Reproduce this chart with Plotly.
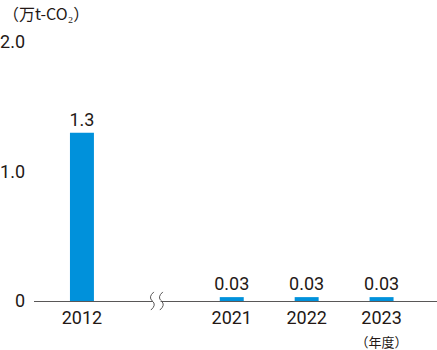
import plotly.graph_objects as go

categories = ["2012", " ", "2021", "2022", "2023"]
tick_labels = ["2012", "", "2021", "2022", "2023<br><span style='font-size:13px'>（年度）</span>"]
values = [1.3, None, 0.03, 0.03, 0.03]
value_labels = ["1.3", "", "0.03", "0.03", "0.03"]
y_ticks = [0, 1.0, 2.0]
y_tick_labels = ["0", "1.0", "2.0"]
unit_label = "（万t-CO₂）"

FONT = "Roboto, Noto Sans CJK JP, sans-serif"
TXT = "#231815"

fig = go.Figure()
fig.add_trace(go.Bar(
    x=categories, y=values, text=value_labels, textposition="outside",
    constraintext="none",
    textfont=dict(size=18, color=TXT, family=FONT),
    marker=dict(color="#0091DB", line=dict(width=0)),
    cliponaxis=False, hoverinfo="skip",
))

fig.update_layout(
    width=437, height=350,
    margin=dict(l=31, r=0, t=42, b=48),
    paper_bgcolor="white", plot_bgcolor="white",
    bargap=0.68, showlegend=False,
    font=dict(family=FONT, color=TXT, size=18),
)
fig.update_xaxes(
    type="category", categoryorder="array", categoryarray=categories,
    tickvals=categories, ticktext=tick_labels,
    range=[-0.64, 4.74], showline=True, linecolor="#595757", linewidth=1,
    ticks="", showgrid=False, zeroline=False,
    tickfont=dict(size=18, family=FONT, color=TXT),
)
fig.update_yaxes(
    range=[0, 2.0], tickvals=y_ticks, ticktext=y_tick_labels,
    showline=False, showgrid=False, zeroline=False, ticks="",
    tickfont=dict(size=18, family=FONT, color=TXT), ticklabelstandoff=8,
)

# axis break mark at the blank category
for dx in (-0.06, 0.06):
    fig.add_shape(type="path", xref="x", yref="paper",
                  path=f"M {1+dx+0.02},0.035 Q {1+dx-0.06},0.015 {1+dx},0 Q {1+dx+0.06},-0.015 {1+dx-0.02},-0.035",
                  line=dict(color="#595757", width=1))
fig.add_shape(type="rect", xref="x", yref="paper", x0=0.95, x1=1.05, y0=-0.004, y1=0.004,
              fillcolor="white", line=dict(width=0), layer="above")

fig.add_annotation(text=unit_label, xref="paper", yref="paper", x=0, y=1,
                   xshift=-33, yshift=43, xanchor="left", yanchor="top",
                   showarrow=False, font=dict(size=16, family="Noto Sans CJK JP", color=TXT))

fig.write_html("out.html")
